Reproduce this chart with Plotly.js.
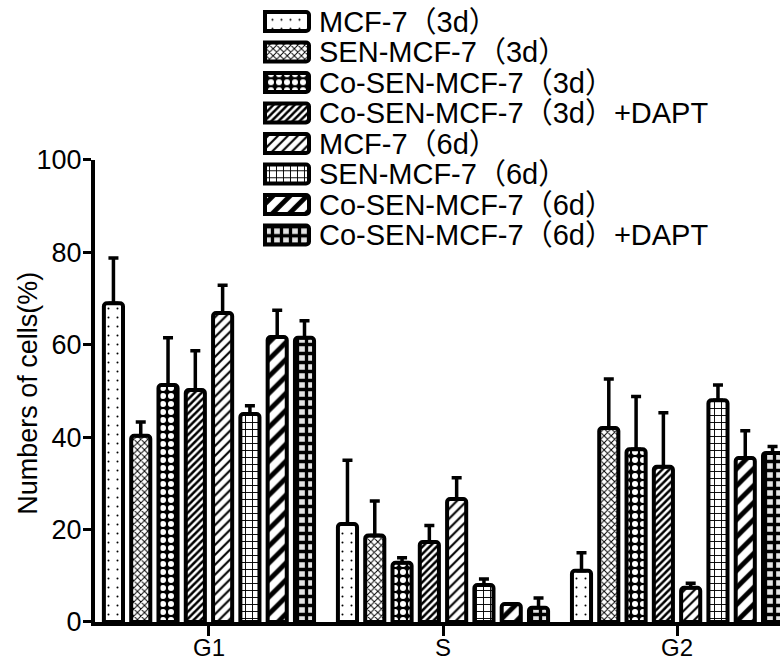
<!DOCTYPE html>
<html>
<head>
<meta charset="utf-8">
<script src="https://cdn.plot.ly/plotly-3.0.1.min.js"></script>
<style>html,body{margin:0;padding:0;background:#fff;}#chart{width:780px;height:663px;}</style>
</head>
<body>
<div id="chart"></div>
<script>
const phases = ["G1", "S", "G2"];
const seriesNames = [
  "MCF-7（3d）",
  "SEN-MCF-7（3d）",
  "Co-SEN-MCF-7（3d）",
  "Co-SEN-MCF-7（3d）+DAPT",
  "MCF-7（6d）",
  "SEN-MCF-7（6d）",
  "Co-SEN-MCF-7（6d）",
  "Co-SEN-MCF-7（6d）+DAPT"
];
const yTitle = "Numbers of cells(%)";
// values per series: [G1, S, G2]
const mcf7_3d      = [69.0, 21.2, 11.1];
const sen_3d       = [40.3, 18.7, 42.0];
const cosen_3d     = [51.3, 12.8, 37.4];
const cosenDapt_3d = [50.2, 17.3, 33.6];
const mcf7_6d      = [66.9, 26.6, 7.4];
const sen_6d       = [45.0, 8.0, 48.0];
const cosen_6d     = [61.7, 3.9, 35.5];
const cosenDapt_6d = [61.5, 3.1, 36.6];
// upper error (SD)
const mcf7_3d_err      = [9.8, 13.8, 3.9];
const sen_3d_err       = [3.0, 7.5, 10.6];
const cosen_3d_err     = [10.2, 1.1, 11.4];
const cosenDapt_3d_err = [8.5, 3.6, 11.7];
const mcf7_6d_err      = [6.0, 4.6, 1.0];
const sen_6d_err       = [1.8, 1.3, 3.3];
const cosen_6d_err     = [5.8, 0.0, 5.9];
const cosenDapt_6d_err = [3.7, 2.1, 1.4];

const values = [mcf7_3d, sen_3d, cosen_3d, cosenDapt_3d, mcf7_6d, sen_6d, cosen_6d, cosenDapt_6d];
const errs = [mcf7_3d_err, sen_3d_err, cosen_3d_err, cosenDapt_3d_err, mcf7_6d_err, sen_6d_err, cosen_6d_err, cosenDapt_6d_err];

const patterns = [
  {shape: ".", size: 9, solidity: 0.04, fgcolor: "#000", bgcolor: "#fff"},
  {shape: "x", size: 5, solidity: 0.35, fgcolor: "#000", bgcolor: "#fff"},
  {shape: ".", size: 8, solidity: 0.45, fgcolor: "#fff", bgcolor: "#000"},
  {shape: "/", size: 5, solidity: 0.5, fgcolor: "#000", bgcolor: "#fff"},
  {shape: "/", size: 7, solidity: 0.3, fgcolor: "#000", bgcolor: "#fff"},
  {shape: "+", size: 7, solidity: 0.25, fgcolor: "#000", bgcolor: "#fff"},
  {shape: "/", size: 12, solidity: 0.4, fgcolor: "#000", bgcolor: "#fff"},
  {shape: "+", size: 9, solidity: 0.6, fgcolor: "#000", bgcolor: "#e4e4e4"}
];

const FONT = "Arial, 'Liberation Sans', 'Noto Sans CJK SC', sans-serif";

const traces = seriesNames.map((name, i) => ({
  type: "bar",
  name: name,
  x: phases,
  y: values[i],
  xaxis: "x",
  yaxis: "y",
  marker: {
    color: "#fff",
    line: {color: "#000", width: 4},
    pattern: Object.assign({fillmode: "replace"}, patterns[i]),
    cornerradius: 3
  },
  error_y: {
    type: "data",
    symmetric: false,
    array: errs[i],
    arrayminus: errs[i].map(() => 0),
    color: "#000",
    thickness: 3.5,
    width: 5
  },
  showlegend: false,
  hoverinfo: "skip"
}));

// legend key: one full-width swatch per series, drawn on its own small axes
seriesNames.forEach((name, i) => {
  traces.push({
    type: "bar",
    orientation: "h",
    name: name,
    x: [1],
    y: [name],
    width: 0.62,
    xaxis: "x2",
    yaxis: "y2",
    marker: {
      color: "#fff",
      line: {color: "#000", width: 4},
      pattern: Object.assign({fillmode: "replace"}, patterns[i]),
      cornerradius: 3
    },
    showlegend: false,
    hoverinfo: "skip"
  });
});

const layout = {
  width: 780,
  height: 663,
  margin: {l: 95, r: 0, t: 0, b: 41},
  paper_bgcolor: "#fff",
  plot_bgcolor: "rgba(0,0,0,0)",
  font: {family: FONT, color: "#000", size: 26},
  barmode: "group",
  bargap: 0.067,
  bargroupgap: 0.3,
  showlegend: false,
  xaxis: {
    type: "category",
    domain: [0, 1],
    anchor: "y",
    range: [-0.487, 2.44],
    showline: true,
    linecolor: "#000",
    linewidth: 4,
    ticks: "outside",
    ticklen: 10,
    tickwidth: 3,
    tickcolor: "#000",
    tickfont: {family: FONT, size: 24},
    ticklabelstandoff: -9,
    showgrid: false,
    zeroline: false
  },
  yaxis: {
    domain: [0, 0.74277],
    anchor: "x",
    range: [0, 100],
    tickvals: [0, 20, 40, 60, 80, 100],
    showline: true,
    linecolor: "#000",
    linewidth: 4,
    ticks: "outside",
    ticklen: 8,
    tickwidth: 3,
    tickcolor: "#000",
    tickfont: {family: FONT, size: 27},
    ticklabelstandoff: -4,
    showgrid: false,
    zeroline: false
  },
  xaxis2: {
    domain: [0.2394, 0.3212],
    anchor: "y2",
    range: [-0.136, 1.136],
    visible: false,
    fixedrange: true
  },
  yaxis2: {
    domain: [0.5977, 0.98995],
    anchor: "x2",
    side: "right",
    type: "category",
    categoryorder: "array",
    categoryarray: seriesNames,
    tickmode: "array",
    tickvals: seriesNames,
    ticktext: seriesNames,
    autorange: "reversed",
    showline: false,
    showgrid: false,
    zeroline: false,
    ticks: "",
    ticklabelstandoff: 3,
    tickfont: {family: FONT, size: 29},
    fixedrange: true
  },
  annotations: [{
    text: yTitle,
    xref: "paper",
    x: 0,
    xanchor: "center",
    xshift: -67,
    yref: "y domain",
    y: 0.494,
    yanchor: "middle",
    textangle: -90,
    showarrow: false,
    font: {family: FONT, size: 27, color: "#000"}
  }]
};

Plotly.newPlot("chart", traces, layout, {staticPlot: true, displayModeBar: false});
</script>
</body>
</html>
